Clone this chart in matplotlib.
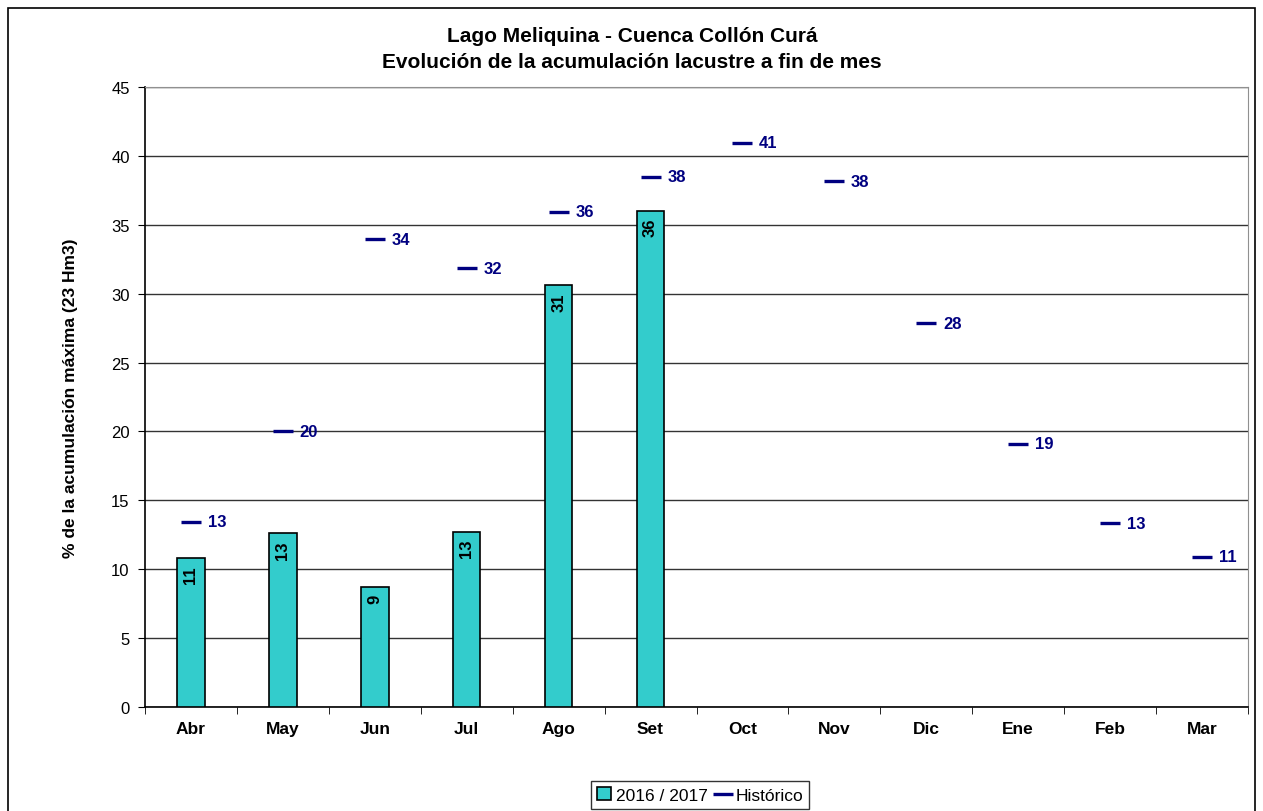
import matplotlib.pyplot as plt
import numpy as np
from matplotlib.patches import Rectangle

plt.rcParams['font.family'] = ['Liberation Sans', 'DejaVu Sans']

meses = ['Abr', 'May', 'Jun', 'Jul', 'Ago', 'Set', 'Oct', 'Nov', 'Dic', 'Ene', 'Feb', 'Mar']
acum_2016 = [10.8, 12.6, 8.7, 12.7, 30.6, 36.0]
historico = [13.45, 20.0, 33.96, 31.86, 35.95, 38.5, 40.95, 38.15, 27.87, 19.09, 13.35, 10.89]

teal = '#33CCCC'
navy = '#000080'

fig = plt.figure(figsize=(12.63, 8.12), dpi=100)
# outer chart border
fig.patches.append(Rectangle((8 / 1263, -0.05), 1247 / 1263, 1.05 - 9 / 812, transform=fig.transFigure,
                             fill=False, edgecolor='black', linewidth=1.2))

ax = fig.add_axes([145 / 1263, 1 - 708 / 812, (1248 - 145) / 1263, (708 - 88) / 812])

x = np.arange(len(meses))
bars = ax.bar(x[:len(acum_2016)], acum_2016, width=0.3, color=teal, edgecolor='black', linewidth=1.2,
              label='2016 / 2017', zorder=3)
for xi, v in zip(x, acum_2016):
    ax.text(xi, v - 0.5, f'{v:.0f}', rotation=90, ha='center', va='top', fontsize=12,
            fontweight='bold', color='black', zorder=4)

hist_line, = ax.plot(x, historico, linestyle='none', marker='_', markersize=15, markeredgewidth=2.4,
                     color=navy, label='Histórico', zorder=4)
for xi, v in zip(x, historico):
    ax.annotate(f'{v:.0f}', (xi, v), xytext=(12, 0), textcoords='offset points', ha='left', va='center',
                fontsize=12, fontweight='bold', color=navy)

ax.set_xlim(-0.5, len(meses) - 0.5)
ax.set_ylim(0, 45)
ax.set_yticks(np.arange(0, 46, 5))
ax.set_xticks(x)
ax.set_xticklabels(meses, fontweight='bold', fontsize=12.5)
ax.set_xticks(np.arange(-0.5, len(meses), 1), minor=True)
ax.tick_params(axis='x', which='major', length=0, pad=10)
ax.tick_params(axis='x', which='minor', length=5, direction='out', color='black')
ax.tick_params(axis='y', length=5, direction='out', labelsize=12, pad=6)

ax.grid(axis='y', color='#333333', linewidth=1.0, zorder=0)
for s in ['top', 'right']:
    ax.spines[s].set_color('#909090')
for s in ['left', 'bottom']:
    ax.spines[s].set_color('black')
    ax.spines[s].set_linewidth(1.2)

ax.set_ylabel('% de la acumulación máxima (23 Hm3)', fontweight='bold', fontsize=12.5, labelpad=24)

fig.text(632 / 1263, 1 - 37 / 812, 'Lago Meliquina - Cuenca Collón Curá', ha='center', va='center',
         fontsize=15, fontweight='bold')
fig.text(632 / 1263, 1 - 62 / 812, 'Evolución de la acumulación lacustre a fin de mes', ha='center',
         va='center', fontsize=15, fontweight='bold')

leg = fig.legend(handles=[bars, hist_line], labels=['2016 / 2017', 'Histórico'], loc='center',
                 bbox_to_anchor=(700 / 1263, 1 - 796 / 812), ncol=2, frameon=True,
                 fancybox=False, edgecolor='black', fontsize=12.5, handlelength=0.8, handletextpad=0.3,
                 columnspacing=0.5, borderpad=0.35)
leg.get_frame().set_linewidth(1.0)

fig.savefig('out.png', dpi=100)
